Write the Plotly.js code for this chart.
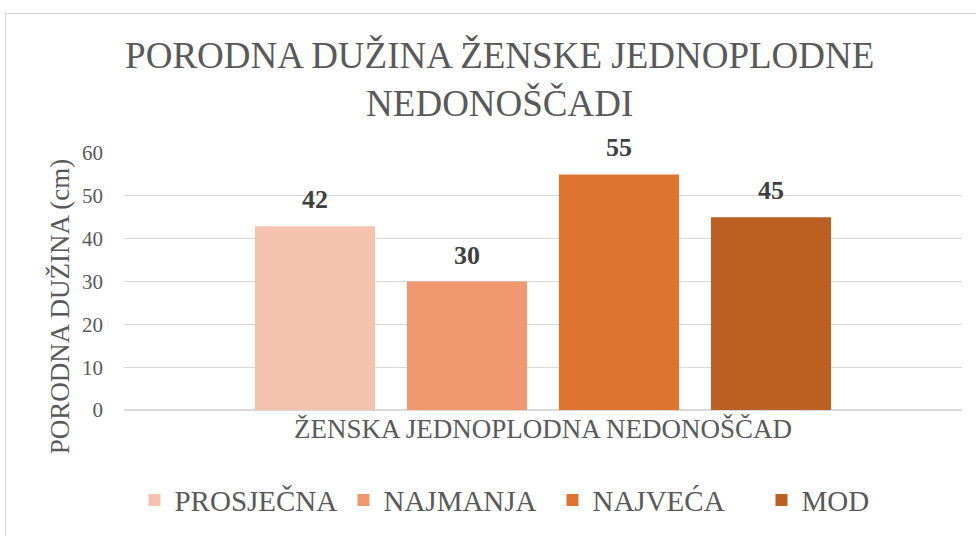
<!DOCTYPE html>
<html>
<head>
<meta charset="utf-8">
<script src="https://cdn.plot.ly/plotly-3.0.1.min.js"></script>
<style>
  html, body { margin: 0; padding: 0; background: #ffffff; overflow: hidden; }
  #frame { position: absolute; left: 5px; top: 13px; width: 1100px; height: 700px; border: 1.5px solid #D9D9D9; box-sizing: border-box; }
  #chart { position: absolute; left: 0; top: 0; width: 976px; height: 536px; }
</style>
</head>
<body>
<div id="frame"></div>
<div id="chart"></div>
<script>
const category = ["ŽENSKA JEDNOPLODNA NEDONOŠČAD"];
const seriesNames = ["PROSJEČNA", "NAJMANJA", "NAJVEĆA", "MOD"];
const seriesValues = [42.9, 30, 55, 45];
const dataLabels = ["42", "30", "55", "45"];
const seriesColors = ["#F5C2B0", "#F09970", "#DF742E", "#BA6023"];
const yTicks = [0, 10, 20, 30, 40, 50, 60];
const yTitle = "PORODNA DUŽINA (cm)";
const chartTitle = "PORODNA DUŽINA ŽENSKE JEDNOPLODNE<br>NEDONOŠČADI";

const FONT = "Liberation Serif, Times New Roman, serif";
const BARGAP = 0.2745;
const BARGROUPGAP = 0.21;

const traces = seriesNames.map((name, i) => ({
  type: "bar",
  name: name,
  x: category,
  y: [seriesValues[i]],
  marker: { color: seriesColors[i] },
  hoverinfo: "name+y"
}));

// data labels placed above each grouped bar, in axis coordinates
const nS = seriesNames.length;
const slot = (1 - BARGAP) / nS;
const annotations = seriesNames.map((name, i) => ({
  xref: "x",
  yref: "y",
  x: (i - (nS - 1) / 2) * slot,
  y: seriesValues[i],
  yanchor: "bottom",
  xanchor: "center",
  yshift: 10,
  showarrow: false,
  text: dataLabels[i],
  font: { family: FONT, size: 26, color: "#404040", weight: "bold" }
}));

// y-axis title (placed like the original, slightly below the axis centre)
annotations.push({
  xref: "paper",
  yref: "paper",
  x: -0.0764,
  y: 0.4034,
  xanchor: "center",
  yanchor: "middle",
  textangle: -90,
  showarrow: false,
  text: yTitle,
  font: { family: FONT, size: 27, color: "#595959" }
});

const layout = {
  width: 976,
  height: 536,
  paper_bgcolor: "rgba(0,0,0,0)",
  plot_bgcolor: "rgba(0,0,0,0)",
  margin: { l: 124, r: 14, t: 153, b: 125.5, autoexpand: false },
  font: { family: FONT, color: "#595959" },
  title: {
    text: chartTitle,
    font: { family: FONT, size: 37, color: "#595959" },
    x: 0.512,
    xanchor: "center",
    y: 0.874,
    yanchor: "top"
  },
  barmode: "group",
  bargap: BARGAP,
  bargroupgap: BARGROUPGAP,
  xaxis: {
    type: "category",
    tickfont: { family: FONT, size: 27, color: "#595959" },
    showgrid: false,
    showline: false,
    ticks: ""
  },
  yaxis: {
    range: [0, 60],
    tickvals: yTicks,
    ticktext: yTicks.map(String),
    tickfont: { family: FONT, size: 21, color: "#595959" },
    showgrid: true,
    gridcolor: "#D9D9D9",
    gridwidth: 1.3,
    zeroline: true,
    zerolinecolor: "#D9D9D9",
    zerolinewidth: 1.3,
    showline: false,
    ticks: "",
    ticklabelstandoff: 20
  },
  annotations: annotations,
  showlegend: true,
  legend: {
    orientation: "h",
    x: 0.0125,
    xanchor: "left",
    y: -0.351,
    yanchor: "middle",
    entrywidth: 164,
    entrywidthmode: "pixels",
    font: { family: FONT, size: 29, color: "#595959" },
    bgcolor: "rgba(0,0,0,0)"
  }
};

Plotly.newPlot("chart", traces, layout, { displayModeBar: false, staticPlot: true });
</script>
</body>
</html>
